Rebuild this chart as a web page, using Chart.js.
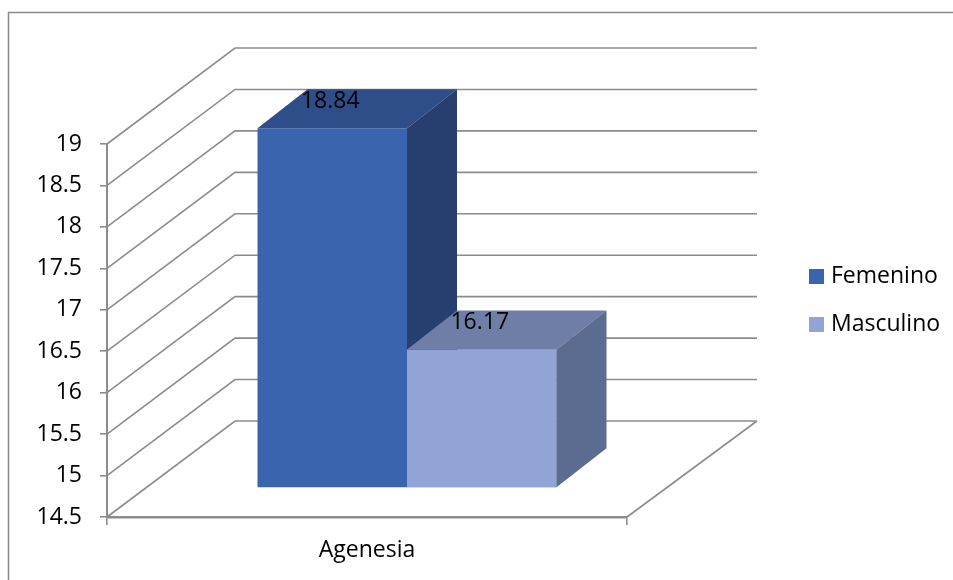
<!DOCTYPE html>
<html>
<head>
<meta charset="utf-8">
<script src="https://cdn.jsdelivr.net/npm/chart.js@4.4.1/dist/chart.umd.min.js"></script>
<style>
  body { margin: 0; background: #fff; }
  #wrap { width: 953px; height: 580px; position: relative; }
</style>
</head>
<body>
<div id="wrap"><canvas id="chart3d"></canvas></div>
<script>
// chart data
const categories = ["Agenesia"];
const seriesNames = ["Femenino", "Masculino"];
const femenino = [18.84];
const masculino = [16.17];
const yMin = 14.5, yMax = 19, yStep = 0.5;

const frontColors = ["#3a64ad", "#92a3d5"];
const topColors = ["#2e4d89", "#6e7ea7"];
const sideColors = ["#263f6f", "#5c6b90"];

const FONT = "'Open Sans', 'Liberation Sans', sans-serif";
const GRID = "#8c8c8c";

// depth of the back wall, and of the bars
const wallDX = 128, wallDY = -96;
const barShiftX = 40, barShiftY = -29;   // front plane of bars
const barDX = 50, barDY = -39;           // bar thickness

const box3d = {
    id: "box3d",
    beforeDatasetsDraw(chart) {
        const ctx = chart.ctx;
        const y = chart.scales.y;
        const area = chart.chartArea;
        ctx.save();
        ctx.strokeStyle = GRID;
        ctx.lineWidth = 1.6;
        // left wall diagonals + back wall lines
        y.ticks.forEach(t => {
            const py = y.getPixelForValue(t.value);
            ctx.beginPath();
            ctx.moveTo(area.left, py);
            ctx.lineTo(area.left + wallDX, py + wallDY);
            ctx.lineTo(area.right + wallDX + 2, py + wallDY);
            ctx.stroke();
        });
        // floor right edge
        ctx.beginPath();
        ctx.moveTo(area.right, area.bottom);
        ctx.lineTo(area.right + wallDX + 2, area.bottom + wallDY);
        ctx.stroke();
        ctx.restore();

        ctx.save();
        ctx.translate(barShiftX, barShiftY);
    },
    afterDatasetsDraw(chart) {
        const ctx = chart.ctx;
        chart.data.datasets.forEach((ds, i) => {
            const meta = chart.getDatasetMeta(i);
            meta.data.forEach(bar => {
                if (i > 0) bar.draw(ctx);
                const l = bar.x - bar.width / 2, r = bar.x + bar.width / 2;
                const t = bar.y, b = bar.base;
                ctx.fillStyle = topColors[i];
                ctx.beginPath();
                ctx.moveTo(l, t);
                ctx.lineTo(r, t);
                ctx.lineTo(r + barDX, t + barDY);
                ctx.lineTo(l + barDX, t + barDY);
                ctx.closePath();
                ctx.fill();
                ctx.fillStyle = sideColors[i];
                ctx.beginPath();
                ctx.moveTo(r, t);
                ctx.lineTo(r + barDX, t + barDY);
                ctx.lineTo(r + barDX, b + barDY);
                ctx.lineTo(r, b);
                ctx.closePath();
                ctx.fill();
            });
        });
        ctx.restore();
    },
    afterDraw(chart) {
        const ctx = chart.ctx;
        ctx.save();
        // value labels on the bar tops
        ctx.fillStyle = "#000";
        ctx.font = "23px " + FONT;
        ctx.textAlign = "center";
        ctx.textBaseline = "middle";
        chart.data.datasets.forEach((ds, i) => {
            chart.getDatasetMeta(i).data.forEach((bar, j) => {
                ctx.fillText(String(ds.data[j]), bar.x + barShiftX - 2, bar.y + barShiftY - 27);
            });
        });
        // legend
        ctx.textAlign = "left";
        chart.data.datasets.forEach((ds, i) => {
            const cy = 276 + i * 48;
            ctx.fillStyle = frontColors[i];
            ctx.fillRect(809, cy - 7, 15, 15);
            ctx.fillStyle = "#000";
            ctx.fillText(ds.label, 831, cy);
        });
        // outer frame
        ctx.strokeStyle = "#8a8a8a";
        ctx.lineWidth = 1.5;
        ctx.strokeRect(8.5, 12.5, 960, 580);
        ctx.restore();
    }
};

new Chart(document.getElementById("chart3d"), {
    type: "bar",
    data: {
        labels: categories,
        datasets: [
            { label: seriesNames[0], data: femenino, base: yMin, backgroundColor: frontColors[0], clip: false },
            { label: seriesNames[1], data: masculino, base: yMin, backgroundColor: frontColors[1], clip: false }
        ]
    },
    options: {
        responsive: true,
        maintainAspectRatio: false,
        animation: false,
        events: [],
        layout: { padding: { top: 144, right: 326, left: 0, bottom: 0 } },
        datasets: { bar: { categoryPercentage: 0.575, barPercentage: 1 } },
        scales: {
            y: {
                min: yMin,
                max: yMax,
                ticks: {
                    stepSize: yStep, color: "#000", padding: 18,
                    font: { size: 23, family: FONT },
                    callback: v => String(Math.round(v * 10) / 10)
                },
                grid: { drawOnChartArea: false, tickLength: 7, color: GRID, lineWidth: 1.6 },
                border: { color: GRID, width: 2 },
                afterFit: s => { s.width = 107; }
            },
            x: {
                ticks: { color: "#000", padding: 12, font: { size: 23, family: FONT } },
                grid: { drawOnChartArea: false, tickLength: 8, color: GRID, lineWidth: 1.6, offset: true },
                border: { color: GRID, width: 2.5 },
                afterFit: s => { s.height = 63; }
            }
        },
        plugins: {
            legend: { display: false },
            tooltip: { enabled: false }
        }
    },
    plugins: [box3d]
});
</script>
</body>
</html>
